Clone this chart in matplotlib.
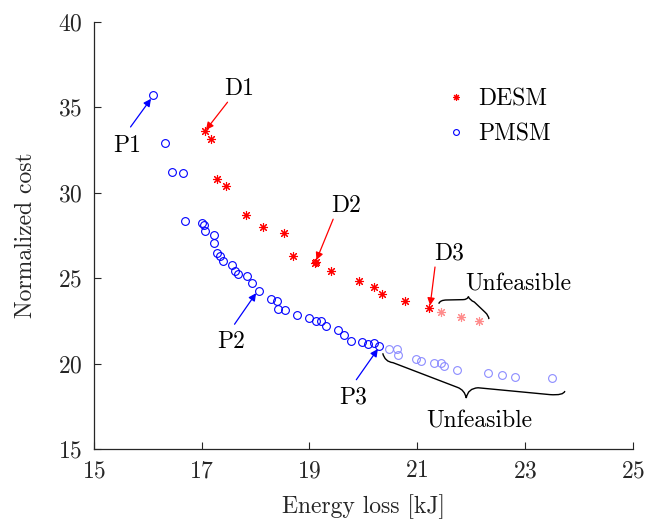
#import necessary libraries
import numpy as np
import matplotlib
matplotlib.use('Agg')
import matplotlib.pyplot as plt
from matplotlib.path import Path
from matplotlib.patches import PathPatch

#latex-like font
plt.rcParams['font.family']='serif'
plt.rcParams['font.serif']=['cmr10']
plt.rcParams['axes.formatter.use_mathtext']=True
plt.rcParams['mathtext.fontset']='cm'

#DESM designs (feasible and unfeasible)
desm_loss=[17.06,17.17,17.28,17.46,17.83,18.13,18.53,18.70,19.11,19.13,19.40,19.92,20.20,20.35,20.77,21.22]
desm_cost=[33.60,33.14,30.80,30.39,28.67,27.99,27.66,26.29,25.88,25.96,25.43,24.85,24.50,24.05,23.68,23.25]
desm_loss_unf=[21.44,21.81,22.14]
desm_cost_unf=[23.03,22.72,22.49]

#PMSM designs (feasible and unfeasible)
pmsm_loss=[16.09,16.32,16.45,16.66,16.69,17.01,17.05,17.07,17.22,17.22,17.28,17.34,17.40,17.56,17.62,17.67,
           17.85,17.94,18.06,18.29,18.40,18.42,18.55,18.76,18.99,19.13,19.22,19.30,19.53,19.64,19.77,19.97,
           20.08,20.20,20.29]
pmsm_cost=[35.71,32.92,31.24,31.13,28.32,28.20,28.10,27.77,27.52,27.03,26.49,26.29,26.02,25.76,25.43,25.24,
           25.12,24.73,24.26,23.76,23.68,23.19,23.13,22.84,22.64,22.51,22.51,22.18,21.94,21.67,21.34,21.26,
           21.14,21.18,21.01]
pmsm_loss_unf=[20.47,20.62,20.65,20.97,21.07,21.31,21.44,21.50,21.74,22.32,22.57,22.81,23.51]
pmsm_cost_unf=[20.85,20.85,20.48,20.25,20.15,20.01,20.05,19.86,19.60,19.43,19.33,19.21,19.15]

#labelled designs: name, text position, arrow start, arrow tip, colour
labels=[('P1',(15.62,32.75),(15.68,33.85),(16.06,35.50),'blue'),
        ('D1',(17.69,36.10),(17.48,35.30),(17.08,33.68),'red'),
        ('D2',(19.69,29.25),(19.44,28.45),(19.13,26.06),'red'),
        ('D3',(21.59,26.45),(21.33,25.65),(21.24,23.40),'red'),
        ('P2',(17.55,21.25),(17.61,22.30),(18.01,24.12),'blue'),
        ('P3',(19.81,18.00),(19.87,19.05),(20.27,20.85),'blue')]

xticks=[15,17,19,21,23,25]
yticks=[15,20,25,30,35,40]

asterisk=(8,2,0)
fs=17
dark=(0.15,0.15,0.15)

#def a curly brace: end, ctrl, pt, line, ctrl, tip, ctrl, pt, line, ctrl, end (data coords)
def brace(ax,pts):
  codes=[Path.MOVETO,Path.CURVE3,Path.CURVE3,Path.LINETO,Path.CURVE3,Path.CURVE3,
         Path.CURVE3,Path.CURVE3,Path.LINETO,Path.CURVE3,Path.CURVE3]
  ax.add_patch(PathPatch(Path(pts,codes),fc='none',ec='black',lw=1.0))

fig=plt.figure(figsize=(6.52,5.22),dpi=100)
ax=fig.add_axes([0.144,0.140,0.8265,0.818])

ax.plot(desm_loss,desm_cost,ls='none',marker=asterisk,ms=6.5,mew=0.8,color='red',label='DESM')
ax.plot(pmsm_loss,pmsm_cost,ls='none',marker='o',ms=5.6,mew=0.8,mfc='none',mec='blue',label='PMSM')
ax.plot(desm_loss_unf,desm_cost_unf,ls='none',marker=asterisk,ms=6.5,mew=0.8,color=(1,0.55,0.55))
ax.plot(pmsm_loss_unf,pmsm_cost_unf,ls='none',marker='o',ms=5.6,mew=0.8,mfc='none',mec=(0.55,0.55,1))

#arrows and names
for name,tpos,start,tip,c in labels:
  ax.annotate('',xy=tip,xytext=start,
              arrowprops=dict(arrowstyle='-|>',color=c,lw=0.9,mutation_scale=11,shrinkA=0,shrinkB=0))
  ax.text(tpos[0],tpos[1],name,fontsize=fs,ha='center',va='center')

#upper brace (DESM unfeasible)
brace(ax,[(21.40,23.50),(21.42,23.72),(21.55,23.72),(21.85,23.74),(21.93,23.74),(21.95,23.92),
          (21.97,23.72),(22.06,23.60),(22.26,23.00),(22.33,22.80),(22.33,22.60)])
ax.text(22.88,24.65,'Unfeasible',fontsize=fs,ha='center',va='center')

#lower brace (PMSM unfeasible)
brace(ax,[(20.36,20.60),(20.40,20.10),(20.55,20.05),(21.75,18.60),(21.88,18.45),(21.91,17.98),
          (21.94,18.55),(22.13,18.58),(23.46,18.18),(23.72,18.12),(23.74,18.39)])
ax.text(22.15,16.60,'Unfeasible',fontsize=fs,ha='center',va='center')

ax.set_xlim(15,25)
ax.set_ylim(15,40)
ax.set_xticks(xticks)
ax.set_yticks(yticks)
ax.tick_params(direction='in',length=5,width=0.8,colors=dark,labelsize=fs,labelcolor=dark,pad=8)
for s in ['top','right']:
  ax.spines[s].set_visible(False)
for s in ['left','bottom']:
  ax.spines[s].set_color(dark)
  ax.spines[s].set_linewidth(0.9)
ax.set_xlabel('Energy loss [kJ]',fontsize=fs,color=dark,labelpad=9)
ax.set_ylabel('Normalized cost',fontsize=fs,color=dark,labelpad=15)

ax.legend(loc='upper right',bbox_to_anchor=(0.888,0.894),frameon=False,fontsize=fs,
          markerscale=0.75,handletextpad=0.35,labelspacing=0.55,handlelength=1.2)

plt.savefig('out.png',dpi=100)
